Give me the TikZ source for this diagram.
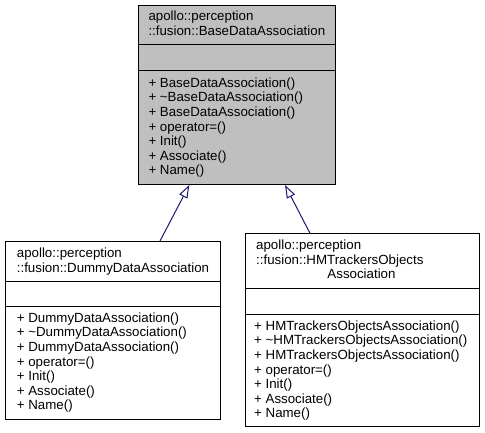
\documentclass[tikz,border=0pt]{standalone}
\usepackage{fontspec}
\setmainfont{Liberation Sans}
\usetikzlibrary{arrows.meta}
\definecolor{gfill}{HTML}{BFBFBF}
\definecolor{edgeblue}{HTML}{191970}
\tikzset{
 classbox/.style={draw=black, line width=1pt, inner sep=0pt, anchor=north west},
 txt/.style={anchor=base west, inner sep=0pt, font=\fontsize{13.3}{15}\selectfont},
 txtc/.style={anchor=base, inner sep=0pt, font=\fontsize{13.3}{15}\selectfont},
 sep/.style={draw=black, line width=1pt},
 inh/.style={draw=edgeblue, line width=1pt, -{Triangle[open, length=13pt, width=9pt, fill=white]}}
}
\begin{document}
\begin{tikzpicture}[x=1pt,y=-1pt]
\path[use as bounding box, fill=white] (0,0) rectangle (485,433);
% base class
\node[classbox, fill=gfill, minimum width=197.5pt, minimum height=179pt] (base) at (137.5,5) {};
\draw[sep] (base.west |- 0,44.3) -- (base.east |- 0,44.3);
\draw[sep] (base.west |- 0,71) -- (base.east |- 0,71);
\node[txt] (bt1) at (148.3,20.7) {apollo::perception};
\node[txt] (bt2) at (148.3,35.6) {::fusion::BaseDataAssociation};
\foreach \t [count=\i from 0] in {+ BaseDataAssociation(),+ \textasciitilde BaseDataAssociation(),+ BaseDataAssociation(),+ operator=(),+ Init(),+ Associate(),+ Name()}
  \node[txt] (bm\i) at (148.3,87.3+14.6*\i) {\t};
% dummy
\node[classbox, fill=white, minimum width=215pt, minimum height=178.3pt] (dummy) at (5,241) {};
\draw[sep] (dummy.west |- 0,281.7) -- (dummy.east |- 0,281.7);
\draw[sep] (dummy.west |- 0,306) -- (dummy.east |- 0,306);
\node[txt] (dt1) at (16.7,257.5) {apollo::perception};
\node[txt] (dt2) at (16.7,272.3) {::fusion::DummyDataAssociation};
\foreach \t [count=\i from 0] in {+ DummyDataAssociation(),+ \textasciitilde DummyDataAssociation(),+ DummyDataAssociation(),+ operator=(),+ Init(),+ Associate(),+ Name()}
  \node[txt] (dm\i) at (16.7,322.3+14.6*\i) {\t};
% HM
\node[classbox, fill=white, minimum width=234.3pt, minimum height=192.5pt] (hm) at (245,233.3) {};
\draw[sep] (hm.west |- 0,288.3) -- (hm.east |- 0,288.3);
\draw[sep] (hm.west |- 0,314) -- (hm.east |- 0,314);
\node[txt] (ht1) at (256,250) {apollo::perception};
\node[txt] (ht2) at (256,264.5) {::fusion::HMTrackersObjects};
\node[txtc] (ht3) at (361.5,278.8) {Association};
\foreach \t [count=\i from 0] in {+ HMTrackersObjectsAssociation(),+ \textasciitilde HMTrackersObjectsAssociation(),+ HMTrackersObjectsAssociation(),+ operator=(),+ Init(),+ Associate(),+ Name()}
  \node[txt] (hm\i) at (254,330.3+14.6*\i) {\t};
% inheritance
\draw[inh] ([xshift=155pt]dummy.north west) -- ([xshift=51.8pt]base.south west);
\draw[inh] ([xshift=65pt]hm.north west) -- ([xshift=147.5pt]base.south west);
\end{tikzpicture}
\end{document}
